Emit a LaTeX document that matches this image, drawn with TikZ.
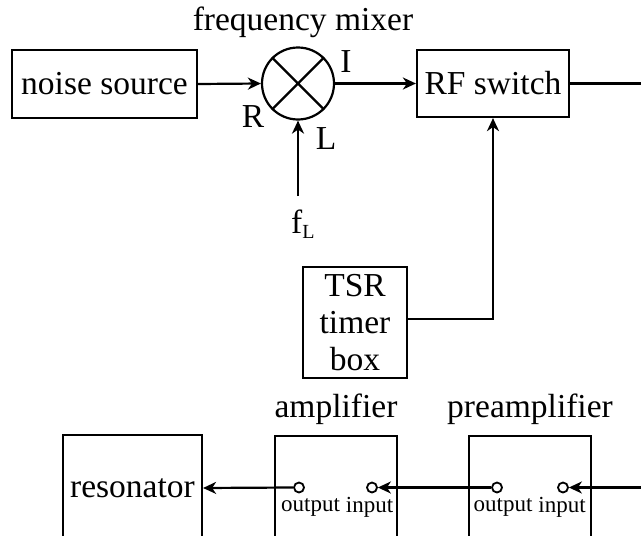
\documentclass[tikz,border=0pt]{standalone}
\usepackage{fontspec}
\setmainfont{Liberation Serif}
\usetikzlibrary{arrows.meta}
\begin{document}
\begin{tikzpicture}[x=1pt,y=-1pt,
  every node/.style={font=\fontsize{33.5}{37}\selectfont, inner sep=0pt},
  box/.style={draw, line width=2.2pt, rectangle},
  port/.style={draw, circle, line width=1.8pt, minimum size=10pt, fill=white},
  small/.style={font=\fontsize{23}{26}\selectfont},
  arr/.style={line width=2.2pt, -{Stealth[length=13pt,width=12pt,inset=4pt]}},
  wire/.style={line width=2.2pt}]
\useasboundingbox (0,0) rectangle (641,536);
\clip (0,0) rectangle (641,536);
% top row
\node[box, minimum width=185pt, minimum height=68pt] (noise) at (104.5,84) {noise source};
\node[draw, circle, line width=2.2pt, minimum size=72pt] (mix) at (298,83.5) {};
\draw[line width=2.2pt] (mix.north west) -- (mix.south east) (mix.north east) -- (mix.south west);
\node (mixlbl) at (303,22) {frequency mixer};
\node (lI) at (346,62) {I};
\node (lR) at (253,117) {R};
\node (lL) at (326,139) {L};
\node[anchor=base west] (fl) at (291,233) {f\raisebox{-5pt}{\fontsize{20}{20}\selectfont L}};
\coordinate (flt) at (298,196);
\node[box, minimum width=152pt, minimum height=67pt] (rf) at (493,83.5) {RF switch};
\coordinate (rfout) at (650,83.5);
\node[box, minimum width=104pt, minimum height=111pt, align=center] (tsr) at (355,322.5) {TSR\\timer\\box};
\draw[arr] (noise.east) -- (mix.west);
\draw[arr] (flt) -- (mix.south);
\draw[arr] (mix.east) -- (rf.west);
\draw[wire] (rf.east) -- (rfout);
\draw[arr] (tsr.east |- 0,319) -| (rf.south);
% bottom row
\node[box, minimum width=139pt, minimum height=120pt] (res) at (132.5,495) {};
\node (restxt) at (132.5,488) {resonator};
\node[box, minimum width=122pt, minimum height=120pt] (amp) at (336,496) {};
\node[box, minimum width=122pt, minimum height=120pt] (pre) at (530,496) {};
\node (amplbl) at (336,409) {amplifier};
\node (prelbl) at (530,409) {preamplifier};
\node[port] (ao) at (299,487.5) {};
\node[port] (ai) at (372,487.5) {};
\node[port] (po) at (497,487.5) {};
\node[port] (pi) at (563,487.5) {};
\coordinate (inr) at (650,487.5);
\node[small] (aol) at (310.5,507) {output};
\node[small] (ail) at (369.5,507) {input};
\node[small] (pol) at (503,507) {output};
\node[small] (pil) at (562,507) {input};
\draw[arr] (ao.west) -- (restxt.east -| res.east);
\draw[arr] (po.west) -- (ai.east);
\draw[arr] (inr) -- (pi.east);
\end{tikzpicture}
\end{document}
